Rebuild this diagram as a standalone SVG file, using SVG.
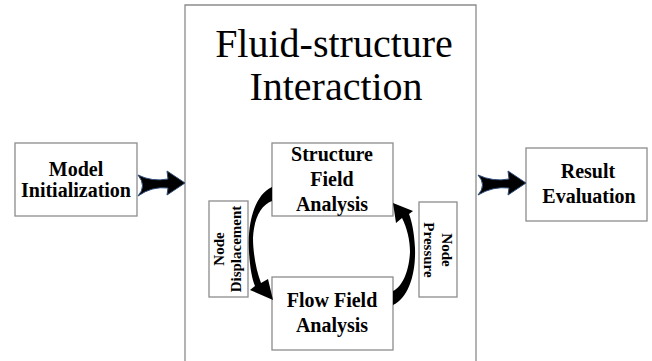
<svg xmlns="http://www.w3.org/2000/svg" width="652" height="361" viewBox="0 0 652 361">
  <style>
    .box { fill: #ffffff; stroke: #8c8c8c; stroke-width: 1.3; }
    .frame { fill: none; stroke: #8c8c8c; stroke-width: 1.3; }
    .lbl { font-family: "Liberation Serif", "Times New Roman", serif; font-weight: bold; font-size: 20px; fill: #000; text-anchor: middle; }
    .side { font-family: "Liberation Serif", "Times New Roman", serif; font-weight: bold; font-size: 15px; fill: #000; text-anchor: middle; }
    .title { font-family: "Liberation Serif", "Times New Roman", serif; font-size: 40px; fill: #000; text-anchor: middle; }
    .big { fill: #000; stroke: #2e4c78; stroke-width: 1; stroke-linejoin: round; }
    .curve { fill: #000; stroke: none; }
  </style>

  <!-- outer coupling frame, open at the bottom -->
  <g id="fsi-frame">
    <path class="frame" d="M185,362 V5 H476 V362"/>
    <text class="title" x="334" y="57">Fluid-structure</text>
    <text class="title" x="336" y="100">Interaction</text>
  </g>

  <g id="model-init">
    <rect class="box" x="15" y="143" width="122" height="73"/>
    <text class="lbl" x="76" y="176">Model</text>
    <text class="lbl" x="76" y="197">Initialization</text>
  </g>

  <g id="result-eval">
    <rect class="box" x="526" y="148" width="121" height="73"/>
    <text class="lbl" x="588" y="178">Result</text>
    <text class="lbl" x="589" y="203">Evaluation</text>
  </g>

  <g id="structure-field">
    <rect class="box" x="272" y="143" width="121" height="73"/>
    <text class="lbl" x="332" y="161">Structure</text>
    <text class="lbl" x="332" y="186">Field</text>
    <text class="lbl" x="332" y="211">Analysis</text>
  </g>

  <g id="flow-field">
    <rect class="box" x="272" y="277" width="121" height="73"/>
    <text class="lbl" x="332" y="307">Flow Field</text>
    <text class="lbl" x="332" y="332">Analysis</text>
  </g>

  <g id="node-displacement">
    <rect class="box" x="209" y="201" width="39" height="96"/>
    <g transform="translate(228.5,249) rotate(-90)">
      <text class="side" x="0" y="-5">Node</text>
      <text class="side" x="0" y="12">Displacement</text>
    </g>
  </g>

  <g id="node-pressure">
    <rect class="box" x="419" y="202" width="38" height="95"/>
    <g transform="translate(438,250) rotate(90)">
      <text class="side" x="0" y="-4">Node</text>
      <text class="side" x="0" y="14">Pressure</text>
    </g>
  </g>

  <g id="connectors">
    <!-- Model Initialization -> coupling frame -->
    <path class="big" d="M138,175 Q152,182 168,179 L167,171 L185,183 L167,195 L168,188 Q152,186 138,196 Q147,186 138,175 Z"/>
    <!-- coupling frame -> Result Evaluation -->
    <path class="big" d="M478,175 Q493,182 509,179 L508,171 L526,183 L508,195 L509,188 Q493,186 478,195 Q487,185 478,175 Z"/>
    <!-- structure -> flow (node displacement) -->
    <path class="curve" d="M272,187 C256,194 247,220 249,252 C250,268 252,279 255,286 L250,290 L273,300 L268,279 L261,283 C256,270 253,252 253,238 C254,218 261,205 272,201 Z"/>
    <!-- flow -> structure (node pressure) -->
    <path class="curve" d="M393,305 C408,298 416,275 415,248 C414,232 412,222 409,214 L413,211 L393,203 L396,223 L402,218 C407,228 410,240 410,252 C409,272 402,287 393,291 Z"/>
  </g>
</svg>
